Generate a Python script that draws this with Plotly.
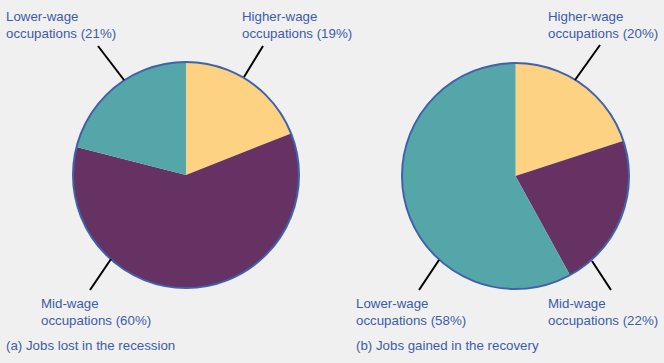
import plotly.graph_objects as go

W, H = 664, 363

categories = ["Higher-wage occupations", "Mid-wage occupations", "Lower-wage occupations"]
lost_pct = [19, 60, 21]
gained_pct = [20, 22, 58]
colors = ["#FDD282", "#663264", "#54A6A8"]
captions = ["(a) Jobs lost in the recession", "(b) Jobs gained in the recovery"]

TXT = "#3D5CA8"
EDGE = "#3F62AA"
BG = "#F0F0F0"
FONT = "Liberation Sans, Arial, sans-serif"

# pie boxes in pixels (left, top, right, bottom)
boxes = [(73, 62, 299, 288), (402, 63, 629, 289)]

def px(x):
    return x / W

def py(y):
    return 1 - y / H

fig = go.Figure()
for vals, (l, t, r, b) in zip([lost_pct, gained_pct], boxes):
    fig.add_trace(go.Pie(
        labels=categories, values=vals, sort=False, direction="clockwise",
        rotation=0, textinfo="none", showlegend=False,
        marker=dict(colors=colors, line=dict(width=0)),
        domain=dict(x=[px(l), px(r)], y=[py(b), py(t)]),
    ))

shapes = []
for (l, t, r, b) in boxes:
    shapes.append(dict(type="circle", xref="paper", yref="paper",
                       x0=px(l), x1=px(r), y0=py(b), y1=py(t),
                       line=dict(color=EDGE, width=2)))

lines = [
    (98, 46, 124, 80), (263, 46, 244, 77), (111, 259, 90, 290),
    (600, 45, 575, 80), (439, 260, 419, 290), (592, 261, 611, 290),
]
for x0, y0, x1, y1 in lines:
    shapes.append(dict(type="line", xref="paper", yref="paper",
                       x0=px(x0), y0=py(y0), x1=px(x1), y1=py(y1),
                       line=dict(color="black", width=2)))

def lab(name, pct):
    return f"{name.split(' ')[0]}<br>occupations ({pct}%)"

ann_pos = [
    # (x, y_top, category index, series)
    (240, 7, 0, lost_pct), (4, 7, 2, lost_pct), (39, 294, 1, lost_pct),
    (546, 7, 0, gained_pct), (354, 294, 2, gained_pct), (546, 294, 1, gained_pct),
]
annotations = []
for x, y, i, series in ann_pos:
    annotations.append(dict(text=lab(categories[i], series[i]), x=px(x), y=py(y),
                            xref="paper", yref="paper", xanchor="left", yanchor="top",
                            align="left", showarrow=False,
                            font=dict(family=FONT, size=13.3, color=TXT)))
for x, cap in zip([4, 354], captions):
    annotations.append(dict(text=cap, x=px(x), y=py(336), xref="paper", yref="paper",
                            xanchor="left", yanchor="top", align="left", showarrow=False,
                            font=dict(family=FONT, size=13.3, color=TXT)))

fig.update_layout(width=W, height=H, margin=dict(l=0, r=0, t=0, b=0),
                  paper_bgcolor=BG, plot_bgcolor=BG,
                  shapes=shapes, annotations=annotations)
fig.write_html("out.html", config={"displayModeBar": False},
               post_script="document.body.style.margin='0';document.body.style.background='#F0F0F0';")
